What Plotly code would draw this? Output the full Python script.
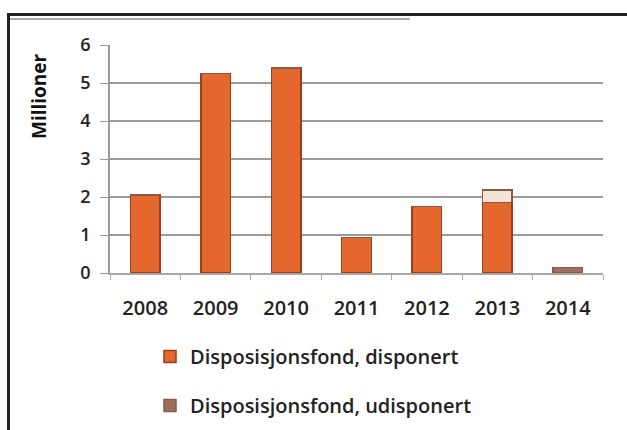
import plotly.graph_objects as go

years = ["2008", "2009", "2010", "2011", "2012", "2013", "2014"]
disponert = [2.05, 5.25, 5.4, 0.93, 1.75, 1.85, 0.0]
udisponert = [0.0, 0.0, 0.0, 0.0, 0.0, 0.33, 0.15]
y_ticks = [0, 1, 2, 3, 4, 5, 6]

W, H = 627, 430
L, R, T, B = 110, 24, 45, 157
plot_h = H - T - B
plot_w = W - L - R


def px(x):
    return (x - L) / plot_w


def py(y):
    return (H - B - y) / plot_h


font_family = "Open Sans, Noto Sans, sans-serif"

fig = go.Figure()
fig.add_trace(go.Bar(
    x=years, y=disponert, name="Disposisjonsfond, disponert",
    legendgroup="a",
    marker=dict(color="#e4682e", line=dict(color="#9a3e1c", width=1.5)),
))
fig.add_trace(go.Bar(
    x=years, y=udisponert, name="Disposisjonsfond, udisponert",
    legendgroup="b",
    marker=dict(
        color=["#9c705f", "#9c705f", "#9c705f", "#9c705f", "#9c705f", "#f1e4d4", "#9c705f"],
        line=dict(color="#8a5a48", width=1.5),
    ),
))

fig.update_layout(
    width=W, height=H,
    margin=dict(l=L, r=R, t=T, b=B, pad=0, autoexpand=False),
    paper_bgcolor="white", plot_bgcolor="white",
    barmode="stack", bargap=0.58,
    font=dict(family=font_family, color="#222222", size=16),
    showlegend=True,
    legend=dict(
        orientation="v", x=px(150), xanchor="left", y=py(337), yanchor="top",
        font=dict(size=20, family=font_family, color="#222222", weight=600),
        tracegroupgap=20, itemwidth=30, bgcolor="rgba(0,0,0,0)",
    ),
    hovermode=False,
)

fig.update_xaxes(
    showgrid=False, showline=True, linecolor="#a8a8a8", linewidth=1.5,
    ticks="outside", tickson="boundaries", ticklen=5, tickcolor="#a8a8a8",
    ticklabelstandoff=16,
    tickfont=dict(size=20, family=font_family, color="#222222", weight=600),
)
fig.update_yaxes(
    range=[0, 6], tickvals=y_ticks, ticktext=[str(v) for v in y_ticks],
    showgrid=True, gridcolor="#9a9a9a", gridwidth=1.5,
    showline=True, linecolor="#9a9a9a", linewidth=1.5,
    ticks="outside", ticklen=8, tickcolor="#9a9a9a",
    ticklabelstandoff=6,
    zeroline=False,
    tickfont=dict(size=18, family=font_family, color="#222222", weight=600),
)

# Axis title placed near the top of the value axis
fig.add_annotation(
    text="Millioner", textangle=-90, xref="paper", yref="paper",
    x=px(39), y=py(96), xanchor="center", yanchor="middle", showarrow=False,
    font=dict(size=19, family=font_family, color="#111111", weight=700),
)

# Frame lines around the chart area
fig.add_shape(type="line", xref="paper", yref="paper",
              x0=px(8.5), x1=px(8.5), y0=py(14), y1=py(430),
              line=dict(color="#222222", width=3))
fig.add_shape(type="line", xref="paper", yref="paper",
              x0=px(7), x1=px(627), y0=py(14.5), y1=py(14.5),
              line=dict(color="#222222", width=3))
fig.add_shape(type="line", xref="paper", yref="paper",
              x0=px(10), x1=px(410), y0=py(19), y1=py(19),
              line=dict(color="#555555", width=1))

fig.write_html("out.html")
